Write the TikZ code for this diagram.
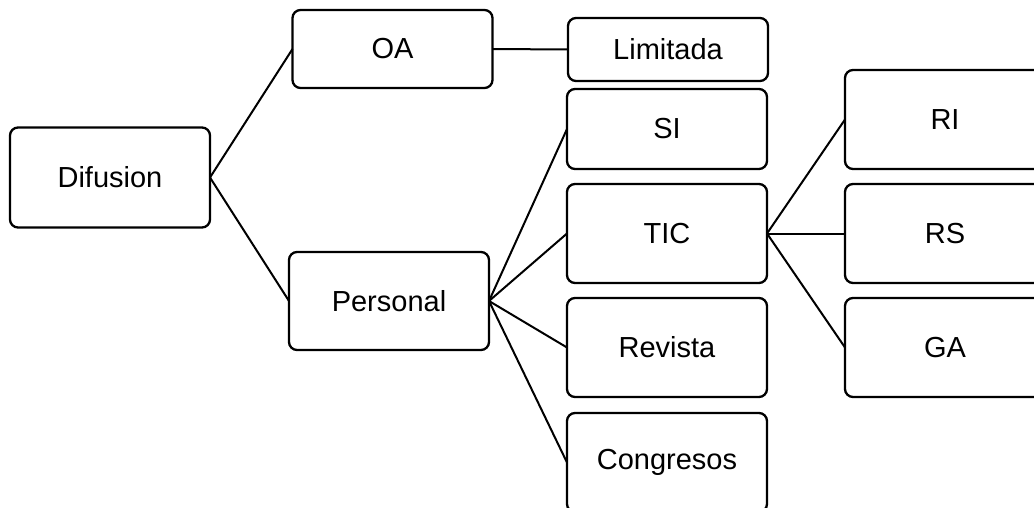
\documentclass[tikz,border=0pt]{standalone}
\usepackage{fontspec}
\setmainfont{Liberation Sans}
\begin{document}
\begin{tikzpicture}[x=1pt,y=-1pt,
  box/.style={draw=black,line width=2.3pt,rounded corners=8pt,minimum width=200pt,inner sep=0pt,outer sep=0pt,font=\fontsize{29}{35}\selectfont,fill=white},
  link/.style={draw=black,line width=2pt}]
\clip (0,0) rectangle (1034,508);
\fill[white] (0,0) rectangle (1034,508);
\node[box,minimum height=100pt] (dif) at (110,177.5) {Difusion};
\node[box,minimum height=78pt] (oa) at (392.5,49) {OA};
\node[box,minimum height=98pt] (per) at (389,301) {Personal};
\node[box,minimum height=63pt] (lim) at (668,49.5) {Limitada};
\node[box,minimum height=80pt] (si) at (667,129) {SI};
\node[box,minimum height=99pt] (tic) at (667,233.5) {TIC};
\node[box,minimum height=99pt] (rev) at (667,347.5) {Revista};
\node[box,minimum height=99pt] (con) at (667,462.5) {Congresos};
\node[box,minimum height=99pt] (ri) at (945,119.5) {RI};
\node[box,minimum height=99pt] (rs) at (945,233.5) {RS};
\node[box,minimum height=99pt] (ga) at (945,347.5) {GA};
\draw[link] (dif.east) -- (oa.west);
\draw[link] (dif.east) -- (per.west);
\draw[link] (oa.east) -- (lim.west);
\draw[link] (per.east) -- (si.west);
\draw[link] (per.east) -- (tic.west);
\draw[link] (per.east) -- (rev.west);
\draw[link] (per.east) -- (con.west);
\draw[link] (tic.east) -- (ri.west);
\draw[link] (tic.east) -- (rs.west);
\draw[link] (tic.east) -- (ga.west);
\end{tikzpicture}
\end{document}
